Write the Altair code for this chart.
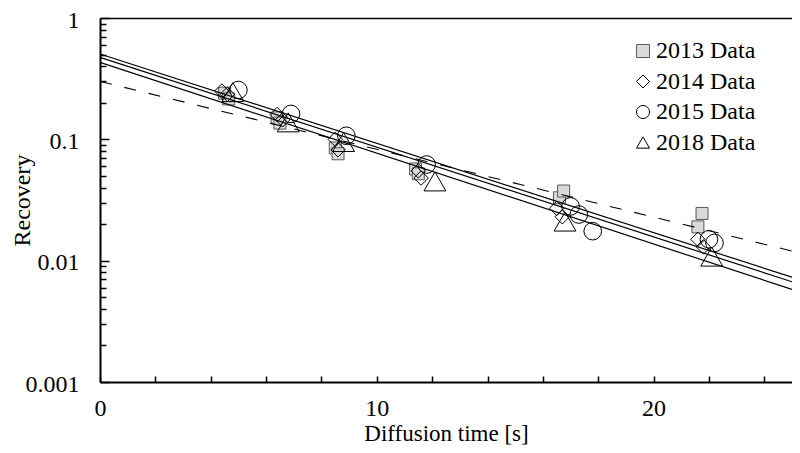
import altair as alt
import pandas as pd

# ---------------- data ----------------
series_names = ["2013 Data", "2014 Data", "2015 Data", "2018 Data"]

t_2013 = [4.5, 4.65, 6.4, 6.5, 8.5, 8.6, 11.4, 11.5, 16.6, 16.75, 21.6, 21.75]
r_2013 = [0.24, 0.215, 0.15, 0.136, 0.085, 0.076, 0.057, 0.052, 0.033, 0.0375, 0.019, 0.0245]
t_2014 = [4.4, 4.6, 6.4, 6.6, 8.5, 8.6, 11.5, 11.6, 16.5, 16.7, 21.6, 21.8]
r_2014 = [0.25, 0.235, 0.16, 0.145, 0.10, 0.082, 0.055, 0.048, 0.027, 0.023, 0.015, 0.013]
t_2015 = [5.0, 6.9, 8.9, 11.8, 17.0, 17.3, 17.8, 22.0, 22.2]
r_2015 = [0.255, 0.162, 0.107, 0.062, 0.028, 0.024, 0.0175, 0.015, 0.014]
t_2018 = [4.8, 6.8, 8.8, 12.1, 16.8, 22.1]
r_2018 = [0.245, 0.138, 0.095, 0.045, 0.021, 0.0108]

fit_t = [0, 25]
fit_a = [0.505, 0.0073]
fit_b = [0.474, 0.0067]
fit_c = [0.431, 0.0058]
dash_r = [0.30, 0.012]

x_label_values = [0, 10, 20]
x_tick_values = [0, 2, 4, 6, 8, 10, 12, 14, 16, 18, 20, 22, 24]
y_label_values = [0.001, 0.01, 0.1, 1]
y_minor_values = [m * d for d in [0.001, 0.01, 0.1] for m in range(2, 10)]

# ---------------- tables ----------------
pts = pd.concat([
    pd.DataFrame({"t": t_2013, "r": r_2013, "s": series_names[0]}),
    pd.DataFrame({"t": t_2014, "r": r_2014, "s": series_names[1]}),
    pd.DataFrame({"t": t_2015, "r": r_2015, "s": series_names[2]}),
    pd.DataFrame({"t": t_2018, "r": r_2018, "s": series_names[3]}),
], ignore_index=True)

fits = pd.concat([
    pd.DataFrame({"t": fit_t, "r": fit_a, "f": "a"}),
    pd.DataFrame({"t": fit_t, "r": fit_b, "f": "b"}),
    pd.DataFrame({"t": fit_t, "r": fit_c, "f": "c"}),
], ignore_index=True)

dash = pd.DataFrame({"t": fit_t, "r": dash_r})

FONT = "Times New Roman, Liberation Serif, serif"
FS = 24
xs = alt.Scale(domain=[0, 25], nice=False, zero=False)
ys = alt.Scale(type="log", domain=[0.001, 1], nice=False)

# axes
x_main = alt.Axis(orient="bottom", values=x_label_values, ticks=False, domain=True,
                  domainColor="black", domainWidth=2, labelFont=FONT, labelFontSize=FS,
                  labelColor="black", labelPadding=14, labelFlush=False,
                  title="Diffusion time [s]",
                  titleFont=FONT, titleFontSize=23, titleFontWeight="normal",
                  titleColor="black", titleBaseline="alphabetic", titleAlign="center",
                  titleY=58, grid=False)
y_main = alt.Axis(orient="left", values=y_label_values, format="~g", ticks=False,
                  domain=True, domainColor="black", domainWidth=2, labelFont=FONT,
                  labelFontSize=FS, labelColor="black", labelPadding=21, labelOffset=2,
                  labelFlush=False,
                  title="Recovery", titleFont=FONT, titleFontSize=FS,
                  titleFontWeight="normal", titleColor="black",
                  titleAngle=270, titleAlign="center", titleBaseline="middle",
                  titleX=-78, titleY=182, grid=False)
x_ticks = alt.Axis(orient="bottom", values=x_tick_values, labels=False, domain=False,
                   ticks=True, tickSize=6, offset=-6, tickColor="black", tickWidth=1.5,
                   title=None, grid=False)
y_minor = alt.Axis(orient="left", values=y_minor_values, labels=False, domain=False,
                   ticks=True, tickSize=6, offset=-6, tickColor="black", tickWidth=1.5,
                   title=None, grid=False)
x_top = alt.Axis(orient="top", labels=False, ticks=False, domain=True,
                 domainColor="black", domainWidth=1.5, title=None, grid=False)
y_major = alt.Axis(orient="left", values=y_label_values, labels=False, domain=False,
                   ticks=True, tickSize=9, offset=-9, tickColor="black", tickWidth=1.5,
                   title=None, grid=False)

size_def = {
    "condition": [
        {"test": "datum.s === '2013 Data'", "value": 144},
        {"test": "datum.s === '2014 Data'", "value": 210},
        {"test": "datum.s === '2015 Data'", "value": 310},
    ],
    "value": 480,
}

points = alt.Chart(pts).mark_point(filled=False, strokeWidth=1, opacity=1).encode(
    x=alt.X("t:Q", scale=xs, axis=x_top),
    y=alt.Y("r:Q", scale=ys, axis=y_major),
    shape=alt.Shape("s:N", scale=alt.Scale(domain=series_names,
                    range=["square", "diamond", "circle", "triangle-up"]),
                    legend=alt.Legend(title=None, orient="none", legendX=531, legendY=21,
                                      labelFont=FONT, labelFontSize=FS, labelColor="black",
                                      symbolSize=170, symbolStrokeWidth=1,
                                      rowPadding=6.5, labelOffset=1)),
    fill=alt.Fill("s:N", scale=alt.Scale(domain=series_names,
                  range=["#d9d9d9", "transparent", "transparent", "transparent"])),
    stroke=alt.Stroke("s:N", scale=alt.Scale(domain=series_names,
                      range=["#595959", "black", "black", "black"])),
    size=size_def,
    order=alt.Order("s:N"),
)

solid = alt.Chart(fits).mark_line(color="black", strokeWidth=1.2).encode(
    x=alt.X("t:Q", scale=xs, axis=x_main),
    y=alt.Y("r:Q", scale=ys, axis=y_main),
    detail="f:N",
)

dashed = alt.Chart(dash).mark_line(color="black", strokeWidth=1.1, strokeDash=[12, 13]).encode(
    x=alt.X("t:Q", scale=xs, axis=x_ticks),
    y=alt.Y("r:Q", scale=ys, axis=y_minor),
)

chart = alt.layer(points, solid, dashed).resolve_axis(
    x="independent", y="independent"
).properties(
    width=692, height=364,
    padding={"left": 92, "top": 10, "right": 0, "bottom": 63},
    autosize=alt.AutoSizeParams(type="none"),
).configure_view(stroke=None).configure(background="white")

chart.save("out.html", embed_options={"renderer": "svg", "actions": False})
